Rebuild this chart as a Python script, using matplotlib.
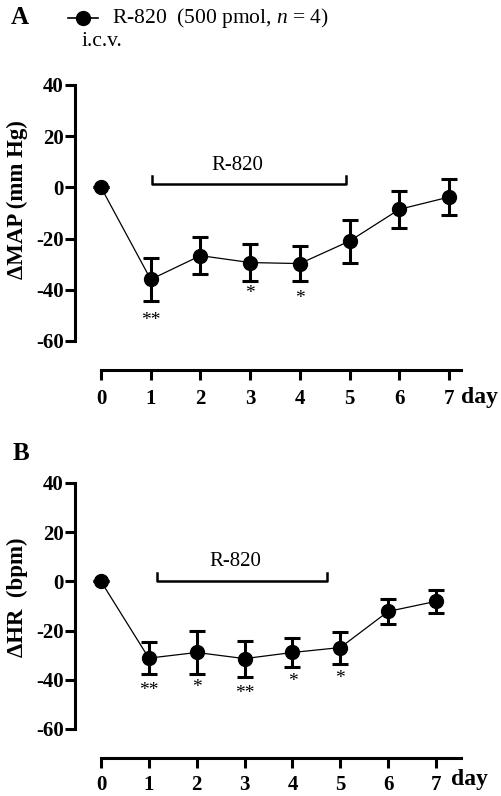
import matplotlib
matplotlib.use("Agg")
import matplotlib.pyplot as plt

plt.rcParams['font.family'] = ['Liberation Serif', 'DejaVu Serif']
plt.rcParams['mathtext.fontset'] = 'custom'
plt.rcParams['mathtext.rm'] = 'Liberation Serif'
plt.rcParams['mathtext.it'] = 'Liberation Serif:italic'

days = [0, 1, 2, 3, 4, 5, 6, 7]
map_mean = [0, -36.0, -26.7, -29.4, -29.8, -21.0, -8.6, -3.8]
map_sem = [0, 8.5, 7.2, 7.4, 6.9, 8.4, 7.2, 6.9]
map_stars = {1: "**", 3: "*", 4: "*"}

hr_mean = [0, -31.2, -28.9, -31.4, -28.9, -26.9, -12.2, -8.1]
hr_sem = [0, 6.4, 8.6, 7.3, 6.0, 6.5, 5.1, 4.8]
hr_stars = {1: "**", 2: "*", 3: "**", 4: "*", 5: "*"}

yticks = [-60, -40, -20, 0, 20, 40]

W, H = 502, 796
fig = plt.figure(figsize=(W / 100, H / 100), dpi=100)

def fx(px):
    return px / W

def fy(py):
    return 1 - py / H

lw_axis = 2.2
tick_font = dict(fontsize=15, fontweight='bold')

def make_panel(top_px, bot_px, xlim, ylim, mean, sem, stars, star_y, ylabel, ylabel_y,
               bracket, bracket_label_x, xpad):
    ax = fig.add_axes([fx(75), fy(bot_px), fx(461) - fx(75), fy(top_px) - fy(bot_px)])
    ax.set_xlim(*xlim)
    ax.set_ylim(*ylim)
    for s in ['top', 'right']:
        ax.spines[s].set_visible(False)
    ax.spines['left'].set_bounds(-60, 40)
    ax.spines['bottom'].set_bounds(0, xlim[1])
    ax.spines['left'].set_linewidth(lw_axis)
    ax.spines['bottom'].set_linewidth(lw_axis)
    ax.set_yticks(yticks)
    ax.set_yticklabels([str(v) for v in yticks], **tick_font)
    ax.set_xticks(days)
    ax.set_xticklabels([str(d) for d in days], **tick_font)
    ax.tick_params(axis='both', length=7, width=lw_axis, pad=1)
    ax.tick_params(axis='x', pad=xpad)
    ax.errorbar(days, mean, yerr=sem, fmt='o', color='black', ecolor='black',
                elinewidth=2.2, capsize=5.5, capthick=2.2, markersize=10,
                clip_on=False, zorder=3)
    ax.plot(days, mean, color='black', lw=0.9, zorder=2, clip_on=False)
    for d, s in stars.items():
        ax.text(d, star_y[d], s, ha='center', va='center', fontsize=14)
    # bracket
    bx0, bx1, by, bh = bracket
    ax.plot([bx0, bx0, bx1, bx1], [by + bh, by, by, by + bh], color='black', lw=1.8,
            clip_on=False)
    ax.text(bracket_label_x, by + bh + 0.5, "R-820", ha='center', va='bottom', fontsize=15)
    fig.text(fx(17), fy(ylabel_y), ylabel, rotation=90, ha='center', va='center',
             fontsize=16.5, fontweight='bold')
    return ax

# Panel A
axA = make_panel(85, 370, (-0.523, 7.24), (-71.4, 40), map_mean, map_sem, map_stars,
                 {1: -52.0, 3: -41.5, 4: -43.5}, "\u0394MAP (mm Hg)", 200,
                 (1.02, 4.92, 1.2, 3.2), 2.75, 7)
# Panel B
axB = make_panel(483, 758, (-0.543, 7.52), (-71.8, 40), hr_mean, hr_sem, hr_stars,
                 {1: -44.5, 2: -43.0, 3: -45.5, 4: -40.5, 5: -39.5}, "\u0394HR  (bpm)", 597,
                 (1.17, 4.72, 0.0, 3.6), 2.8, 5)

# day labels
fig.text(fx(480), fy(398), "day", ha='center', va='center', fontsize=17, fontweight='bold')
fig.text(fx(470), fy(780), "day", ha='center', va='center', fontsize=17, fontweight='bold')

# panel letters
fig.text(fx(20), fy(18), "A", ha='center', va='center', fontsize=18, fontweight='bold')
fig.text(fx(21), fy(453), "B", ha='center', va='center', fontsize=18, fontweight='bold')

# legend
leg_ax = fig.add_axes([0, 0, 1, 1], facecolor='none')
leg_ax.set_xlim(0, W)
leg_ax.set_ylim(H, 0)
leg_ax.axis('off')
leg_ax.plot([68, 98], [18, 18], color='black', lw=1.2)
leg_ax.plot([83], [18], 'o', color='black', markersize=10)
leg_ax.text(112, 18, "R-820  (500 pmol, $n$ = 4)", ha='left', va='center', fontsize=15.5)
leg_ax.text(82, 42, "i.c.v.", ha='left', va='center', fontsize=15.5)

fig.savefig("out.png", dpi=100)
